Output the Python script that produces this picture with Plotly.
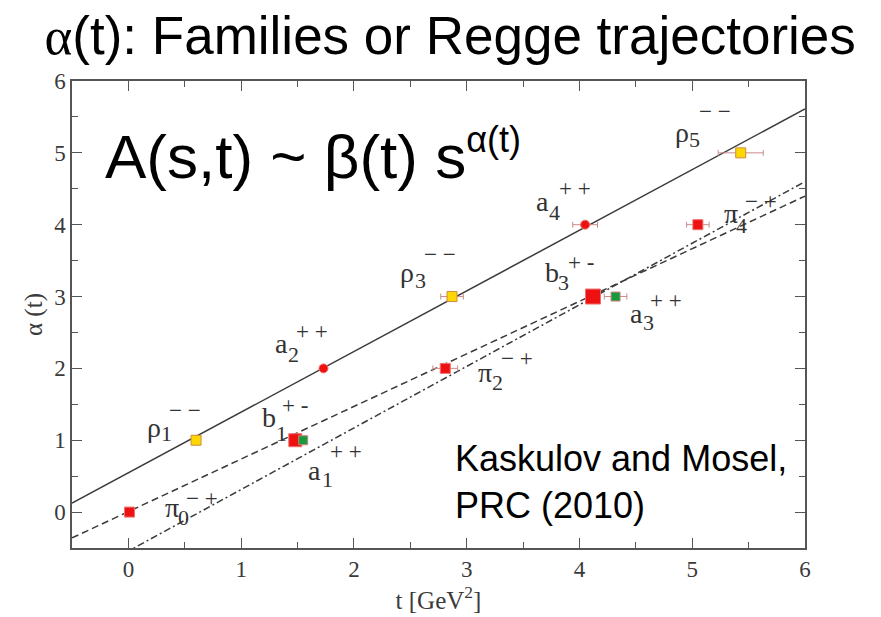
import numpy as np
import plotly.graph_objects as go

# ---- measured states (t in GeV^2, spin alpha) ----
pi_t = [0.01, 2.81, 5.05]
pi_a = [0.0, 2.0, 4.0]
pi_err = [0.02, 0.11, 0.10]

rho_t = [0.60, 2.87, 5.43]
rho_a = [1.0, 3.0, 5.0]
rho_err = [0.0, 0.10, 0.20]

b_t = [1.48, 4.12]
b_a = [1.0, 3.0]

a_odd_t = [1.55, 4.32]          # a1, a3 (green)
a_odd_a = [1.0, 3.0]
a_odd_err = [0.0, 0.10]

a_even_t = [1.73, 4.05]         # a2, a4 (circles)
a_even_a = [2.0, 4.0]
a_even_err = [0.0, 0.11]

# ---- linear trajectories alpha(t) = a0 + a1 * t ----
traj_solid = (0.547, 0.844)
traj_dash = (0.006, 0.732)
traj_dashdot = (-0.543, 0.857)

# ---- state labels: name, index, C/P signs and their positions ----
labels = [
    ("ρ", "1", "− −", (0.23, 1.18), (0.34, 1.09), (0.50, 1.42)),
    ("b", "1", "+ -", (1.25, 1.31), (1.36, 1.09), (1.48, 1.49)),
    ("a", "1", "+ +", (1.65, 0.58), (1.77, 0.46), (1.93, 0.84)),
    ("π", "0", "− +", (0.39, 0.06), (0.49, -0.08), (0.65, 0.19)),
    ("a", "2", "+ +", (1.36, 2.35), (1.46, 2.20), (1.63, 2.52)),
    ("ρ", "3", "− −", (2.47, 3.33), (2.59, 3.22), (2.76, 3.58)),
    ("b", "3", "+ -", (3.76, 3.33), (3.86, 3.19), (4.01, 3.48)),
    ("π", "2", "− +", (3.16, 1.94), (3.27, 1.80), (3.45, 2.14)),
    ("a", "3", "+ +", (4.51, 2.77), (4.61, 2.64), (4.77, 2.94)),
    ("a", "4", "+ +", (3.67, 4.32), (3.78, 4.17), (3.96, 4.51)),
    ("π", "4", "− +", (5.34, 4.16), (5.44, 3.99), (5.61, 4.32)),
    ("ρ", "5", "− −", (4.91, 5.28), (5.02, 5.18), (5.20, 5.57)),
]

x_ticks = [0, 1, 2, 3, 4, 5, 6]
y_ticks = [0, 1, 2, 3, 4, 5, 6]

SERIF = "Liberation Serif, Times New Roman, serif"
SANS = "Liberation Sans, Arial, sans-serif"
INK = "#333333"
ERR = "#c98c8c"

fig = go.Figure()

tt = np.linspace(-0.5, 6.0, 200)
for (a0, a1), dash in [(traj_solid, "solid"), (traj_dash, "7px,4px"),
                       (traj_dashdot, "7px,3px,2px,3px")]:
    fig.add_trace(go.Scatter(x=tt, y=a0 + a1 * tt, mode="lines",
                             line=dict(color="#3a3a3a", width=1.5, dash=dash),
                             hoverinfo="skip"))


def err(arr):
    return dict(type="data", array=arr, color=ERR, thickness=1, width=3)


fig.add_trace(go.Scatter(x=pi_t, y=pi_a, mode="markers", error_x=err(pi_err),
                         marker=dict(symbol="square", size=10, color="#ee1111", opacity=1,
                                     line=dict(color="#f07070", width=1))))
fig.add_trace(go.Scatter(x=rho_t, y=rho_a, mode="markers", error_x=err(rho_err),
                         marker=dict(symbol="square", size=10, color="#ffd700", opacity=1,
                                     line=dict(color="#d08a40", width=1))))
fig.add_trace(go.Scatter(x=b_t, y=b_a, mode="markers",
                         marker=dict(symbol="square", size=[13, 15], color="#ee1111",
                                     opacity=1, line=dict(color="#f07070", width=1))))
fig.add_trace(go.Scatter(x=a_odd_t, y=a_odd_a, mode="markers", error_x=err(a_odd_err),
                         marker=dict(symbol="square", size=9, color="#159a3c", opacity=1,
                                     line=dict(color="#d08080", width=1))))
fig.add_trace(go.Scatter(x=a_even_t, y=a_even_a, mode="markers", error_x=err(a_even_err),
                         marker=dict(symbol="circle", size=9, color="#ee1111", opacity=1,
                                     line=dict(color="#f07070", width=1))))

ann = []
for name, idx, sign, p_name, p_idx, p_sign in labels:
    ann.append(dict(x=p_name[0], y=p_name[1], text=name, showarrow=False,
                    font=dict(family=SERIF, size=28, color=INK)))
    ann.append(dict(x=p_idx[0], y=p_idx[1], text=idx, showarrow=False,
                    font=dict(family=SERIF, size=22, color=INK)))
    ann.append(dict(x=p_sign[0], y=p_sign[1], text=sign, showarrow=False,
                    font=dict(family=SERIF, size=23, color=INK)))

ann.append(dict(xref="paper", yref="paper", x=0.042, y=0.842, xanchor="left",
                yanchor="middle", showarrow=False,
                text="A(s,t) ~ β(t) s<sup><span style='font-size:36px'>α(t)</span></sup>",
                font=dict(family=SANS, size=62, color="black")))
ann.append(dict(xref="paper", yref="paper", x=0.52, y=0.141, xanchor="left",
                yanchor="middle", showarrow=False, align="left",
                text="Kaskulov and Mosel,<br>PRC (2010)",
                font=dict(family=SANS, size=36, color="black")))

axis_common = dict(showline=True, linecolor="#555555", linewidth=1.5, mirror="ticks",
                   ticks="inside", ticklen=10, tickwidth=1.2, tickcolor="#555555",
                   showgrid=False, zeroline=False,
                   tickfont=dict(family=SERIF, size=23, color="#3a3a3a"),
                   minor=dict(ticks="inside", ticklen=6, tickwidth=1.2,
                              tickcolor="#555555", dtick=0.5, showgrid=False))

fig.update_layout(
    width=881, height=617,
    margin=dict(l=72, r=76, t=81, b=69),
    paper_bgcolor="white", plot_bgcolor="white",
    showlegend=False,
    title=dict(text="<span style='font-family:Liberation Serif'>α</span>(t): Families or Regge trajectories",
               x=0.511, y=0.943, xanchor="center", yanchor="middle",
               font=dict(family=SANS, size=53, color="black")),
    xaxis=dict(range=[-0.5, 6], tickvals=x_ticks,
               title=dict(text="t [GeV<sup>2</sup>]", standoff=6,
                          font=dict(family=SERIF, size=25, color="#3a3a3a")),
               **axis_common),
    yaxis=dict(range=[-0.5, 6], tickvals=y_ticks,
               title=dict(text="α (t)", standoff=4,
                          font=dict(family=SERIF, size=25, color="#3a3a3a")),
               **axis_common),
    annotations=ann,
)

fig.write_html("out.html")
